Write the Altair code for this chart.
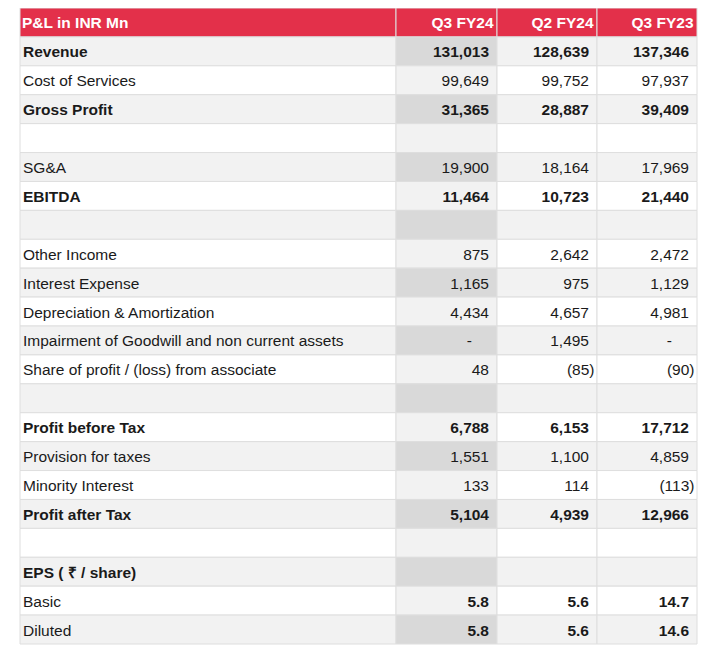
import altair as alt
import pandas as pd

# ---------------- data ----------------
header = ["P&L in INR Mn", "Q3 FY24", "Q2 FY24", "Q3 FY23"]
labels = [
    "Revenue", "Cost of Services", "Gross Profit", "",
    "SG&A", "EBITDA", "",
    "Other Income", "Interest Expense", "Depreciation & Amortization",
    "Impairment of Goodwill and non current assets",
    "Share of profit / (loss) from associate", "",
    "Profit before Tax", "Provision for taxes", "Minority Interest",
    "Profit after Tax", "",
    "EPS ( ₹ / share)", "Basic", "Diluted",
]
q3fy24 = [131013, 99649, 31365, None, 19900, 11464, None, 875, 1165, 4434, 0, 48,
          None, 6788, 1551, 133, 5104, None, None, 5.8, 5.8]
q2fy24 = [128639, 99752, 28887, None, 18164, 10723, None, 2642, 975, 4657, 1495, -85,
          None, 6153, 1100, 114, 4939, None, None, 5.6, 5.6]
q3fy23 = [137346, 97937, 39409, None, 17969, 21440, None, 2472, 1129, 4981, 0, -90,
          None, 17712, 4859, -113, 12966, None, None, 14.7, 14.6]
bold_labels = ["Revenue", "Gross Profit", "EBITDA", "Profit before Tax",
               "Profit after Tax", "EPS ( ₹ / share)"]
eps_rows = ["Basic", "Diluted"]

# ---------------- layout / style ----------------
col_widths = [3.76, 1.01, 1.0, 1.0]
edges = [0.0]
for w in col_widths:
    edges.append(edges[-1] + w)
n_rows = len(labels) + 1

RED = "#E3304A"
GRAY = "#F2F2F2"
DARK = "#D9D9D9"
WHITE = "#FFFFFF"
FONT = "Liberation Sans"
TXT = "#1a1a1a"
FS = 15.5


def fmt(v, eps):
    if v is None:
        return "", "none"
    if v == 0:
        return "-", "dash"
    s = f"{abs(v):.1f}" if eps else f"{abs(v):,.0f}"
    if v < 0:
        return f"({s})", "neg"
    return s, "pos"


recs = []
# header row
for c in range(4):
    recs.append(dict(x0=edges[c], x1=edges[c + 1], y0=0, y1=1, ym=0.5,
                     tx=edges[c] if c == 0 else edges[c + 1],
                     fill=RED, text=header[c],
                     kind="hlabel" if c == 0 else "hval", bold=True))
series = [q3fy24, q2fy24, q3fy23]
for r, lab in enumerate(labels):
    y = r + 1
    even = (r % 2 == 0)
    bold = lab in bold_labels
    vbold = bold or lab in eps_rows
    recs.append(dict(x0=edges[0], x1=edges[1], y0=y, y1=y + 1, ym=y + 0.5,
                     tx=edges[0], fill=GRAY if even else WHITE, text=lab,
                     kind="label", bold=bold))
    for c in range(3):
        txt, kind = fmt(series[c][r], lab in eps_rows)
        if c == 0:
            fill = DARK if even else GRAY
        else:
            fill = GRAY if even else WHITE
        recs.append(dict(x0=edges[c + 1], x1=edges[c + 2], y0=y, y1=y + 1,
                         ym=y + 0.5, tx=edges[c + 2], fill=fill, text=txt,
                         kind=kind, bold=vbold))

df = pd.DataFrame(recs)

xs = alt.Scale(domain=[0, edges[-1]], nice=False, zero=False)
ys = alt.Scale(domain=[0, n_rows], nice=False, zero=False, reverse=True)

base = alt.Chart(df)

cells = base.mark_rect(stroke="#DEDEDE", strokeWidth=1).encode(
    x=alt.X("x0:Q", scale=xs, axis=None),
    x2="x1:Q",
    y=alt.Y("y0:Q", scale=ys, axis=None),
    y2="y1:Q",
    fill=alt.Fill("fill:N", scale=None),
)


def txt_layer(filt, align, dx, bold, color=TXT):
    return base.transform_filter(filt).mark_text(
        align=align, baseline="middle", dx=dx, dy=1, font=FONT, fontSize=FS,
        fontWeight="bold" if bold else "normal", color=color,
    ).encode(
        x=alt.X("tx:Q", scale=xs, axis=None),
        y=alt.Y("ym:Q", scale=ys, axis=None),
        text="text:N",
    )


layers = [
    cells,
    txt_layer("datum.kind == 'hlabel'", "left", 2, True, WHITE),
    txt_layer("datum.kind == 'hval'", "right", -3.5, True, WHITE),
    txt_layer("datum.kind == 'label' && datum.bold", "left", 3, True),
    txt_layer("datum.kind == 'label' && !datum.bold", "left", 3, False),
    txt_layer("datum.kind == 'pos' && datum.bold", "right", -8, True),
    txt_layer("datum.kind == 'pos' && !datum.bold", "right", -8, False),
    txt_layer("datum.kind == 'neg' && datum.bold", "right", -2.5, True),
    txt_layer("datum.kind == 'neg' && !datum.bold", "right", -2.5, False),
    txt_layer("datum.kind == 'dash'", "right", -25, False),
]

chart = alt.layer(*layers).properties(
    width=677, height=636,
    padding={"left": 12, "top": 0, "right": 10, "bottom": 6},
    autosize=alt.AutoSizeParams(type="none"),
    background="white",
).configure_view(stroke=None)

chart.save("out.html", embed_options={"renderer": "svg", "actions": False})
